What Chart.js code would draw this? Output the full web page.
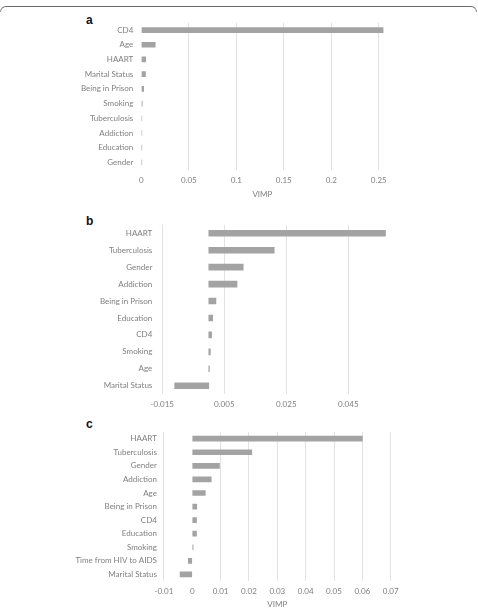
<!DOCTYPE html>
<html>
<head>
<meta charset="utf-8">
<script src="https://cdn.jsdelivr.net/npm/chart.js@4.4.1/dist/chart.umd.min.js"></script>
<style>
  body { margin: 0; width: 478px; height: 610px; background: #fff; position: relative; overflow: hidden; }
  .frame { position: absolute; left: 0; top: 6px; width: 475px; height: 5px; border-top: 1.5px solid #6a6a6a; border-left: 1px solid #8a8a8a; border-right: 1px solid #8a8a8a; border-radius: 6px 6px 0 0; }
  .tag { position: absolute; left: 86px; font: bold 12px/12px "Liberation Sans", Arial, sans-serif; color: #111; }
  canvas { position: absolute; left: 0; }
</style>
</head>
<body>
<div class="frame"></div>
<div class="tag" style="top:14px">a</div>
<div class="tag" style="top:215px">b</div>
<div class="tag" style="top:418px">c</div>
<canvas id="chart-a" width="478" height="200" style="top:0"></canvas>
<canvas id="chart-b" width="478" height="210" style="top:200px"></canvas>
<canvas id="chart-c" width="478" height="200" style="top:410px"></canvas>
<script>
// dados
const aLabels = ['CD4', 'Age', 'HAART', 'Marital Status', 'Being in Prison', 'Smoking', 'Tuberculosis', 'Addiction', 'Education', 'Gender'];
const aValues = [0.255, 0.0147, 0.0046, 0.0044, 0.0025, 0.001, 0.0005, 0.0005, 0.0004, 0.0004];
const aTicks = [0, 0.05, 0.1, 0.15, 0.2, 0.25];

const bLabels = ['HAART', 'Tuberculosis', 'Gender', 'Addiction', 'Being in Prison', 'Education', 'CD4', 'Smoking', 'Age', 'Marital Status'];
const bValues = [0.057, 0.0211, 0.0111, 0.0091, 0.0023, 0.00125, 0.0009, 0.0005, 0.0002, -0.011];
const bTicks = [-0.015, 0.005, 0.025, 0.045];

const cLabels = ['HAART', 'Tuberculosis', 'Gender', 'Addiction', 'Age', 'Being in Prison', 'CD4', 'Education', 'Smoking', 'Time from HIV to AIDS', 'Marital Status'];
const cValues = [0.06, 0.021, 0.0096, 0.0067, 0.0046, 0.0016, 0.0015, 0.0015, 0.0003, -0.0014, -0.0043];
const cTicks = [-0.01, 0, 0.01, 0.02, 0.03, 0.04, 0.05, 0.06, 0.07];

const textColor = '#808080';
const labelFont = { family: 'Lato', size: 8 };

function drawPanel(id, labels, values, ticks, cfg) {
    const ctx = document.getElementById(id);

    new Chart(ctx, {
        type: 'bar',
        data: {
            labels: labels,
            datasets: [{
                data: values,
                backgroundColor: '#a3a3a3',
                barThickness: cfg.bar
            }]
        },
        options: {
            indexAxis: 'y',
            responsive: false,
            animation: false,
            layout: { padding: { top: cfg.top, right: cfg.right, left: 0, bottom: 0 } },
            plugins: { legend: { display: false }, tooltip: { enabled: false } },
            scales: {
                x: {
                    min: cfg.min,
                    max: cfg.max,
                    afterBuildTicks: (s) => { s.ticks = ticks.map(v => ({ value: v })); },
                    afterFit: (s) => { s.height = cfg.xh; },
                    grid: {
                        drawTicks: false,
                        color: (c) => (c.tick && c.tick.value === 0) ? 'rgba(0,0,0,0)' : '#e2e2e2'
                    },
                    border: { display: false },
                    ticks: { padding: cfg.xpad, color: textColor, font: labelFont, callback: (v) => String(v) },
                    title: {
                        display: cfg.title,
                        text: 'VIMP',
                        color: textColor,
                        font: labelFont,
                        padding: { top: 0, bottom: 1 }
                    }
                },
                y: {
                    afterFit: (s) => { s.width = cfg.yw; },
                    grid: { display: false, drawTicks: false },
                    border: { display: false },
                    ticks: { autoSkip: false, padding: cfg.ypad, color: textColor, font: labelFont }
                }
            }
        }
    });
}

drawPanel('chart-a', aLabels, aValues, aTicks, { min: 0, max: 0.255, yw: 141.3, right: 94.5, top: 22.7, xh: 30.3, xpad: 6, ypad: 8, bar: 5, title: true });
drawPanel('chart-b', bLabels, bValues, bTicks, { min: -0.015, max: 0.058, yw: 162.3, right: 89.4, top: 24.8, xh: 15.8, xpad: 5.4, ypad: 10, bar: 6, title: false });
drawPanel('chart-c', cLabels, cValues, cTicks, { min: -0.01, max: 0.07, yw: 163.9, right: 87.3, top: 21.9, xh: 28.8, xpad: 5.7, ypad: 7, bar: 5, title: true });
</script>
</body>
</html>
